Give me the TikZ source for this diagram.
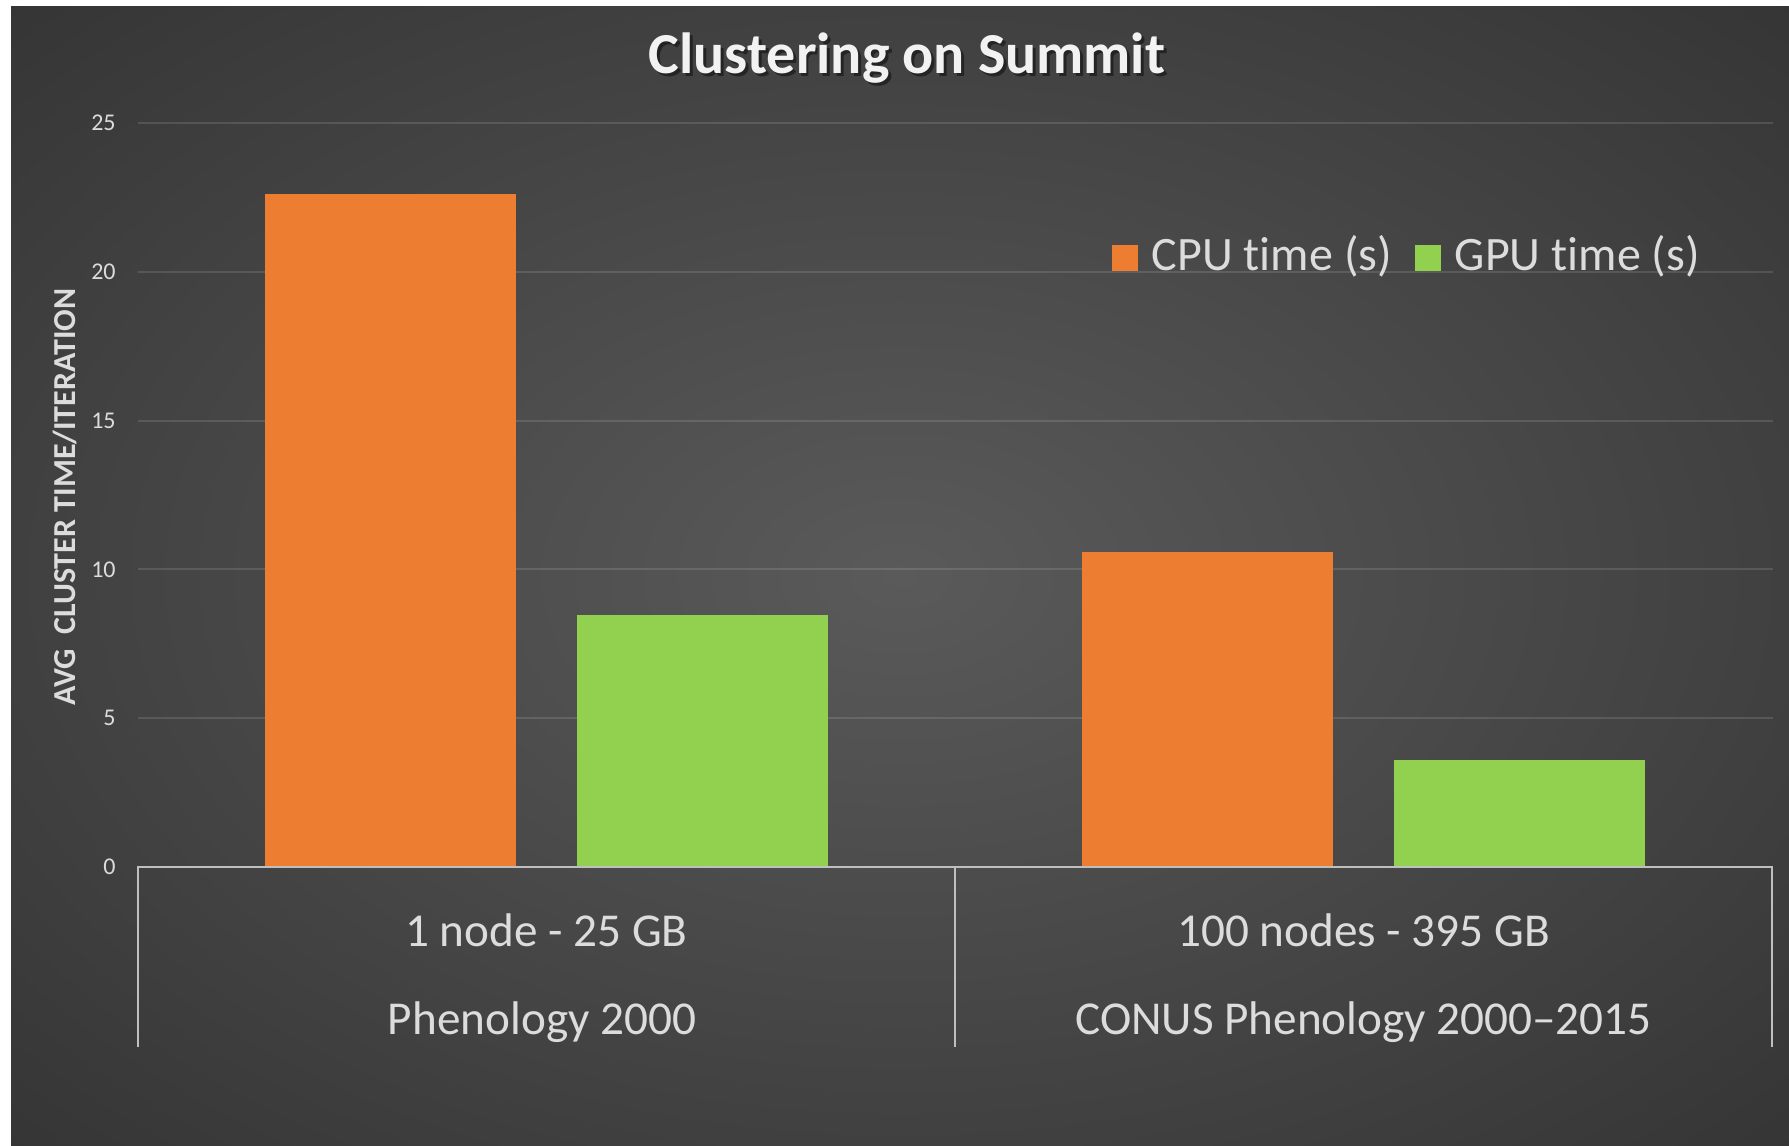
\documentclass[tikz,border=0pt]{standalone}
\usepackage{fontspec}
\setmainfont{Carlito}[Ligatures={TeX,NoCommon}]
\usetikzlibrary{positioning}

\definecolor{cpuorange}{HTML}{ED7D31}
\definecolor{gpugreen}{HTML}{92D050}
\definecolor{bgmid}{HTML}{5A5A5A}
\definecolor{bgedge}{HTML}{262626}
\definecolor{labelgray}{HTML}{DCDCDC}
\definecolor{axisgray}{HTML}{BFBFBF}
\pgfdeclareradialshading{chartglow}{\pgfpointorigin}{color(0bp)=(bgmid); color(50bp)=(bgedge)}

\tikzset{
  ticklabel/.style={anchor=east, inner sep=0pt, text=labelgray, font=\fontsize{12}{12}\selectfont},
  catlabel/.style={anchor=base, inner sep=0pt, text=labelgray, font=\fontsize{23.6}{23.6}\selectfont},
  legendlabel/.style={anchor=base west, inner sep=0pt, text=labelgray, font=\fontsize{24}{24}\selectfont},
  keybox/.style={minimum size=13pt, inner sep=0pt},
  axisline/.style={draw=axisgray, line width=1pt},
  gridline/.style={draw=white, draw opacity=0.12, line width=1pt},
  titlefont/.style={font=\bfseries\fontsize{29}{29}\selectfont, inner sep=0pt, anchor=base}
}

\begin{document}
\begin{tikzpicture}[x=0.5pt,y=0.5pt,yscale=-1]
    \useasboundingbox (0,0) rectangle (1789,1146);
    \fill[white] (0,0) rectangle (1789,1146);
    % background glow
    \shade[shading=chartglow] (11,6) rectangle (1789,1146);

    % gridlines and tick labels
    \foreach \v in {5,10,...,25}
      \draw[gridline] (138,{867-29.76*\v}) -- (1773,{867-29.76*\v});
    \foreach \v in {0,5,...,25}
      \node[ticklabel] (tick\v) at (116,{867-29.76*\v}) {\v};

    % bars
    \foreach \l/\r/\v/\c in {265/516/22.6/cpuorange, 577/828/8.47/gpugreen, 1082/1333/10.58/cpuorange, 1394/1645/3.6/gpugreen}
      \fill[\c] (\l,867) rectangle (\r,{867-29.76*\v});

    % category axis
    \draw[axisline] (138,1047) -- (138,867) -- (1772,867) -- (1772,1047);
    \draw[axisline] (955,867) -- (955,1047);

    % Text Node
    \node[catlabel] (sizeA) at (546.5,946) {1 node - 25 GB};
    \node[catlabel] (dataA) at (542,1034) {Phenology 2000};
    \node[catlabel] (sizeB) at (1363.5,946) {100 nodes - 395 GB};
    \node[catlabel] (dataB) at (1363.5,1034) {CONUS Phenology 2000\textendash 2015};

    % legend
    \node[keybox, fill=cpuorange] (cpukey) at (1125,257.5) {};
    \node[legendlabel] (cpulabel) at ([xshift=6.5pt]cpukey.south east) {CPU t\kern0pt ime (s)};
    \node[keybox, fill=gpugreen] (gpukey) at (1428,257.5) {};
    \node[legendlabel] (gpulabel) at ([xshift=6.5pt]gpukey.south east) {GPU t\kern0pt ime (s)};

    % axis title
    \node[rotate=90, inner sep=0pt, text=labelgray, font=\bfseries\fontsize{16}{16}\selectfont] (ytitle) at (65,497) {AVG\ \ CLUSTER TIME/ITERATION};

    % chart title
    \node[titlefont, text=black, opacity=0.45] (titleshadow) at (910,76) {Clustering on Summit};
    \node[titlefont, text=white!95!black] (charttitle) at (907,73) {Clustering on Summit};
\end{tikzpicture}
\end{document}
